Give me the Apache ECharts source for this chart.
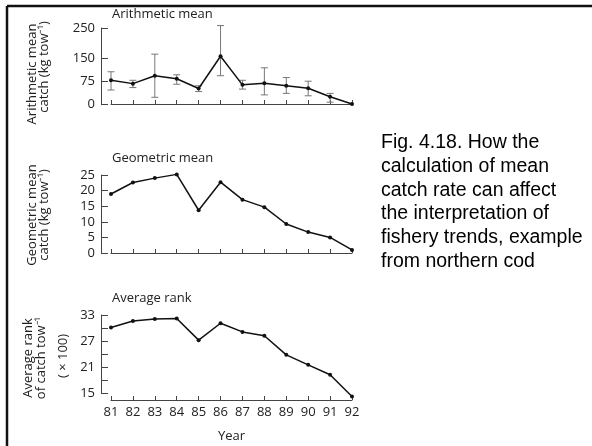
<!DOCTYPE html>
<html>
<head>
<meta charset="utf-8">
<script src="https://cdn.jsdelivr.net/npm/echarts@6/dist/echarts.min.js"></script>
<style>
  html, body { margin: 0; padding: 0; background: #fff; }
  #chart { width: 592px; height: 446px; }
</style>
</head>
<body>
<div id="chart"></div>
<script>
// years along the bottom
const years = ['81', '82', '83', '84', '85', '86', '87', '88', '89', '90', '91', '92']
// arithmetic mean catch (kg per tow) with error bar ends
const arithMean = [78, 67, 93, 83, 51, 157, 63, 68, 60, 52, 24, 0]
const arithLow = [46, 54, 22, 65, 41, 93, 49, 30, 35, 27, 6, null]
const arithHigh = [106, 78, 164, 96, 60, 258, 78, 119, 87, 75, 35, null]
const arithTicks = [0, 75, 150, 250]
// geometric mean catch (kg per tow)
const geoMean = [18.9, 22.6, 24.0, 25.2, 13.7, 22.7, 17.1, 14.7, 9.3, 6.7, 5.0, 1.0]
// average rank of catch per tow (x 100)
const avgRank = [30.1, 31.6, 32.1, 32.2, 27.2, 31.1, 29.1, 28.2, 23.8, 21.5, 19.2, 14.2]

const font = 'Open Sans'
const txt = '#222'
const axisCol = '#444'

const chart = echarts.init(document.getElementById('chart'))

// shared x axis settings for the three panels
function xAxisFor(idx, offset, showLabel) {
  return {
    gridIndex: idx,
    type: 'category',
    data: years,
    boundaryGap: false,
    offset: offset,
    axisLine: { lineStyle: { color: axisCol, width: 1 } },
    axisTick: { inside: true, length: 4, lineStyle: { color: axisCol } },
    axisLabel: { show: showLabel, fontFamily: font, fontSize: 13, color: txt, margin: 6 },
    name: showLabel ? 'Year' : '',
    nameLocation: 'middle',
    nameGap: 30,
    nameTextStyle: { fontFamily: font, fontSize: 13, color: txt },
  }
}

function yAxisBase(idx) {
  return {
    gridIndex: idx,
    type: 'value',
    offset: 10,
    splitLine: { show: false },
    axisLine: { show: true, lineStyle: { color: axisCol, width: 1 } },
    axisTick: { show: true, inside: true, length: 7, lineStyle: { color: axisCol } },
    axisLabel: { fontFamily: font, fontSize: 13, color: txt, margin: 6 },
  }
}

const y0 = yAxisBase(0)
y0.min = 0
y0.max = 250
y0.axisTick.customValues = arithTicks
y0.axisLabel.customValues = arithTicks

const y1 = yAxisBase(1)
y1.min = 0
y1.max = 25
y1.interval = 5

const y2 = yAxisBase(2)
y2.min = 15
y2.max = 33
y2.interval = 3
y2.axisLabel.formatter = function (v) {
  return (v - 15) % 6 === 0 ? String(v) : ''
}

const lineStyle = { color: '#111', width: 1.5 }
const itemStyle = { color: '#111' }

function errBars(params, api) {
  if (api.value(1) == null || isNaN(api.value(1))) return
  const x = api.value(0)
  const lo = api.coord([x, api.value(1)])
  const hi = api.coord([x, api.value(2)])
  const w = 3.5
  const style = { stroke: '#777', lineWidth: 1 }
  return {
    type: 'group',
    children: [
      { type: 'line', shape: { x1: lo[0], y1: lo[1], x2: hi[0], y2: hi[1] }, style: style },
      { type: 'line', shape: { x1: lo[0] - w, y1: lo[1], x2: lo[0] + w, y2: lo[1] }, style: style },
      { type: 'line', shape: { x1: hi[0] - w, y1: hi[1], x2: hi[0] + w, y2: hi[1] }, style: style },
    ],
  }
}

const errData = years.map((y, i) => [i, arithLow[i], arithHigh[i]])

function titleAt(text, top) {
  return {
    text: text,
    left: 112,
    top: top,
    padding: 0,
    textStyle: { fontFamily: font, fontSize: 13, fontWeight: 'normal', color: txt },
  }
}

// rotated axis names, one text per line
function vText(text, x, y) {
  return {
    type: 'text',
    x: x,
    y: y,
    rotation: Math.PI / 2,
    style: { text: text, fontFamily: font, fontSize: 13, fill: txt, align: 'center', verticalAlign: 'middle' },
  }
}

function lineSeries(idx, data) {
  return {
    type: 'line',
    xAxisIndex: idx,
    yAxisIndex: idx,
    data: data,
    clip: false,
    symbol: 'circle',
    symbolSize: 4,
    lineStyle: lineStyle,
    itemStyle: itemStyle,
    z: 3,
  }
}

const option = {
  animation: false,
  title: [titleAt('Arithmetic mean', 8), titleAt('Geometric mean', 152), titleAt('Average rank', 292)],
  grid: [
    { left: 111, top: 28, width: 241, height: 76 },
    { left: 111, top: 175, width: 241, height: 78 },
    { left: 111, top: 315, width: 241, height: 78 },
  ],
  xAxis: [xAxisFor(0, 8, false), xAxisFor(1, 8, false), xAxisFor(2, 7, true)],
  yAxis: [y0, y1, y2],
  series: [
    {
      type: 'custom',
      xAxisIndex: 0,
      yAxisIndex: 0,
      renderItem: errBars,
      data: errData,
      clip: false,
      z: 1,
    },
    lineSeries(0, arithMean),
    lineSeries(1, geoMean),
    lineSeries(2, avgRank),
  ],
  graphic: [
    // frame along top and left
    { type: 'line', shape: { x1: 7, y1: 6, x2: 592, y2: 6 }, style: { stroke: '#111', lineWidth: 2.5 } },
    { type: 'line', shape: { x1: 7, y1: 6, x2: 7, y2: 446 }, style: { stroke: '#111', lineWidth: 2.5 } },
    vText('Arithmetic mean', 32, 74),
    vText('catch (kg tow\u207B\u00B9)', 44, 67),
    vText('Geometric mean', 32, 215),
    vText('catch (kg tow\u207B\u00B9)', 44, 215),
    vText('Average rank', 28, 358),
    vText('of catch tow\u207B\u00B9', 41, 358),
    vText('( \u00D7 100)', 63, 356),
    {
      type: 'text',
      left: 381,
      top: 131,
      style: {
        text: 'Fig. 4.18. How the\ncalculation of mean\ncatch rate can affect\nthe interpretation of\nfishery trends, example\nfrom northern cod',
        fontFamily: 'Liberation Sans, Arial, sans-serif',
        fontSize: 19.5,
        lineHeight: 23.7,
        fill: '#000',
      },
    },
  ],
}

chart.setOption(option)
</script>
</body>
</html>
